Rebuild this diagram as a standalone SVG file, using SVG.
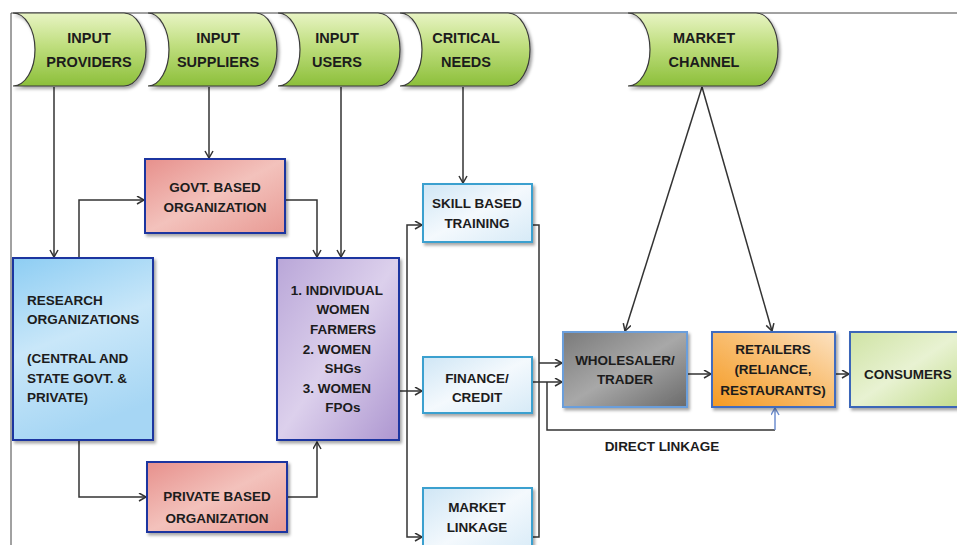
<svg xmlns="http://www.w3.org/2000/svg" width="957" height="545" viewBox="0 0 957 545">
<style>
text{font-family:"Liberation Sans",Arial,sans-serif;font-weight:bold;font-size:13.5px;fill:#1c1c1c;text-anchor:middle}
.lt{text-anchor:start}
.ht{font-size:14.5px}
.hdr{stroke:#3a3a3a;stroke-width:1.2;fill:url(#gGreen);filter:url(#sh)}
.box{stroke-width:2;filter:url(#sh)}
.cn{fill:none;stroke:#333;stroke-width:1.5}
.ar{marker-end:url(#arr)}
</style>
<defs>
<marker id="arr" markerUnits="userSpaceOnUse" markerWidth="10" markerHeight="10" refX="8" refY="4.5" orient="auto">
<path d="M1,0.5 L8,4.5 L1,8.5" fill="none" stroke="#333" stroke-width="1.5"/>
</marker>
<marker id="arrB" markerUnits="userSpaceOnUse" markerWidth="10" markerHeight="10" refX="8" refY="4.5" orient="auto">
<path d="M1,0.5 L8,4.5 L1,8.5" fill="none" stroke="#6f8fd0" stroke-width="1.5"/>
</marker>
<filter id="sh" x="-10%" y="-10%" width="125%" height="130%">
<feDropShadow dx="2" dy="2.5" stdDeviation="1.8" flood-color="#000" flood-opacity="0.35"/>
</filter>
<linearGradient id="gGreen" x1="0" y1="0" x2="0" y2="1">
<stop offset="0" stop-color="#e8f4c4"/><stop offset="0.45" stop-color="#bfde7e"/><stop offset="1" stop-color="#8cbf3a"/>
</linearGradient>
<linearGradient id="gBlue" x1="0" y1="0" x2="0.3" y2="1">
<stop offset="0" stop-color="#8dcdf3"/><stop offset="0.5" stop-color="#c9e7f9"/><stop offset="1" stop-color="#a6d6f4"/>
</linearGradient>
<linearGradient id="gPink" x1="0" y1="0" x2="1" y2="1">
<stop offset="0" stop-color="#e7908c"/><stop offset="0.5" stop-color="#f3c2bc"/><stop offset="1" stop-color="#e89a94"/>
</linearGradient>
<linearGradient id="gPurple" x1="0" y1="0" x2="1" y2="1">
<stop offset="0" stop-color="#b9a6d8"/><stop offset="0.5" stop-color="#dcd0ec"/><stop offset="1" stop-color="#ad96d0"/>
</linearGradient>
<linearGradient id="gLight" x1="0" y1="0" x2="1" y2="1">
<stop offset="0" stop-color="#cfe6f5"/><stop offset="0.5" stop-color="#f4f9fd"/><stop offset="1" stop-color="#d6eaf7"/>
</linearGradient>
<linearGradient id="gGray" x1="0" y1="0" x2="1" y2="1">
<stop offset="0" stop-color="#7a7a7a"/><stop offset="0.5" stop-color="#a8a8a8"/><stop offset="1" stop-color="#6a6a6a"/>
</linearGradient>
<linearGradient id="gOrange" x1="0" y1="1" x2="1" y2="0">
<stop offset="0" stop-color="#f59a22"/><stop offset="0.6" stop-color="#f9c27a"/><stop offset="1" stop-color="#fce2c2"/>
</linearGradient>
<linearGradient id="gLGreen" x1="0" y1="0" x2="1" y2="1">
<stop offset="0" stop-color="#cfe3a4"/><stop offset="0.5" stop-color="#e8f2d2"/><stop offset="1" stop-color="#c2dc8c"/>
</linearGradient>
</defs>
<rect width="957" height="545" fill="#fff"/>
<path d="M11,545 V13 H957" fill="none" stroke="#444" stroke-width="1"/>

<g id="connectors">
<path class="cn ar" d="M54,87 V257"/>
<path class="cn ar" d="M209,87 V158"/>
<path class="cn ar" d="M341,87 V257"/>
<path class="cn ar" d="M463,87 V183"/>
<path class="cn ar" d="M702,87 L625,331"/>
<path class="cn ar" d="M702,87 L772,331"/>
<path class="cn ar" d="M79,258 V200 H144"/>
<path class="cn ar" d="M285,200 H317 V257"/>
<path class="cn ar" d="M79,441 V497 H146"/>
<path class="cn ar" d="M287,497 H317 V442"/>
<path class="cn ar" d="M399,391 H422"/>
<path class="cn ar" d="M407,391 V225 H422"/>
<path class="cn ar" d="M407,391 V537 H422"/>
<path class="cn" d="M532,225 H539 V537 H532"/>
<path class="cn ar" d="M539,363 H562"/>
<path class="cn ar" d="M532,382 H562"/>
<path class="cn" d="M547,382 V430 H775"/>
<path d="M775,430 V408" fill="none" stroke="#6f8fd0" stroke-width="1.5" marker-end="url(#arrB)"/>
<path class="cn ar" d="M687,374 H711"/>
<path class="cn ar" d="M835,374 H849"/>
<text x="662" y="451" font-size="13">DIRECT LINKAGE</text>
</g>

<g id="h-providers">
<path class="hdr" d="M13,13 H124 A22,36.5 0 0 1 124,86 H13 A22,36.5 0 0 0 13,13 Z"/>
<text class="ht" x="89" y="43">INPUT</text><text class="ht" x="89" y="67">PROVIDERS</text>
</g>
<g id="h-suppliers">
<path class="hdr" d="M148,13 H256 A21,36.5 0 0 1 256,86 H148 A21,36.5 0 0 0 148,13 Z"/>
<text class="ht" x="218" y="43">INPUT</text><text class="ht" x="218" y="67">SUPPLIERS</text>
</g>
<g id="h-users">
<path class="hdr" d="M278,13 H378 A22,36.5 0 0 1 378,86 H278 A22,36.5 0 0 0 278,13 Z"/>
<text class="ht" x="337" y="43">INPUT</text><text class="ht" x="337" y="67">USERS</text>
</g>
<g id="h-critical">
<path class="hdr" d="M400,13 H508 A22,36.5 0 0 1 508,86 H400 A22,36.5 0 0 0 400,13 Z"/>
<text class="ht" x="466" y="43">CRITICAL</text><text class="ht" x="466" y="67">NEEDS</text>
</g>
<g id="h-market">
<path class="hdr" d="M628,13 H756 A22,36.5 0 0 1 756,86 H628 A22,36.5 0 0 0 628,13 Z"/>
<text class="ht" x="704" y="43">MARKET</text><text class="ht" x="704" y="67">CHANNEL</text>
</g>

<g id="research">
<rect class="box" x="13" y="258" width="140" height="182" fill="url(#gBlue)" stroke="#1f35a0"/>
<text class="lt" x="27" y="305"> RESEARCH</text>
<text class="lt" x="27" y="324">ORGANIZATIONS</text>
<text class="lt" x="27" y="363">(CENTRAL AND</text>
<text class="lt" x="27" y="383">STATE GOVT. &amp;</text>
<text class="lt" x="27" y="402">PRIVATE)</text>
</g>
<g id="govt">
<rect class="box" x="145" y="159" width="140" height="74" fill="url(#gPink)" stroke="#1f35a0"/>
<text x="215" y="192">GOVT. BASED</text><text x="215" y="212">ORGANIZATION</text>
</g>
<g id="private">
<rect class="box" x="147" y="462" width="140" height="70" fill="url(#gPink)" stroke="#1f35a0"/>
<text x="217" y="501">PRIVATE BASED</text><text x="217" y="523">ORGANIZATION</text>
</g>
<g id="users">
<rect class="box" x="277" y="258" width="122" height="182" fill="url(#gPurple)" stroke="#1f35a0"/>
<text x="337" y="295">1. INDIVIDUAL</text>
<text x="343" y="314">WOMEN</text>
<text x="343" y="334">FARMERS</text>
<text x="337" y="354">2. WOMEN</text>
<text x="343" y="373">SHGs</text>
<text x="337" y="393">3. WOMEN</text>
<text x="343" y="412">FPOs</text>
</g>
<g id="skill">
<rect class="box" x="423" y="184" width="109" height="58" fill="url(#gLight)" stroke="#3aa0cf"/>
<text x="477" y="208">SKILL BASED</text><text x="477" y="228">TRAINING</text>
</g>
<g id="finance">
<rect class="box" x="423" y="357" width="109" height="56" fill="url(#gLight)" stroke="#3aa0cf"/>
<text x="477" y="383">FINANCE/</text><text x="477" y="402">CREDIT</text>
</g>
<g id="marketlinkage">
<rect class="box" x="423" y="488" width="109" height="70" fill="url(#gLight)" stroke="#3aa0cf"/>
<text x="477" y="512">MARKET</text><text x="477" y="532">LINKAGE</text>
</g>
<g id="wholesaler">
<rect class="box" x="563" y="332" width="124" height="75" fill="url(#gGray)" stroke="#6a9edb"/>
<text x="625" y="365">WHOLESALER/</text><text x="625" y="384">TRADER</text>
</g>
<g id="retailers">
<rect class="box" x="712" y="332" width="123" height="75" fill="url(#gOrange)" stroke="#3f6cc0"/>
<text x="773" y="354">RETAILERS</text><text x="773" y="374">(RELIANCE,</text><text x="773" y="395">RESTAURANTS)</text>
</g>
<g id="consumers">
<rect class="box" x="850" y="332" width="112" height="75" fill="url(#gLGreen)" stroke="#3a66b8"/>
<text x="908" y="379">CONSUMERS</text>
</g>
</svg>
